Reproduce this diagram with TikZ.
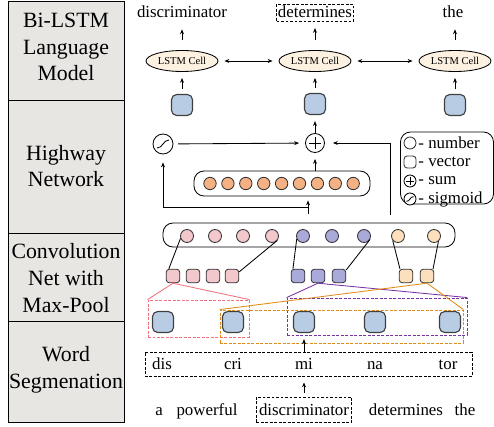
\documentclass[tikz,border=0pt]{standalone}
\usepackage{fontspec}
\setmainfont{Liberation Serif}
\usetikzlibrary{shapes.geometric,arrows.meta}
\definecolor{panelgray}{RGB}{231,230,227}
\definecolor{vecblue}{RGB}{184,204,228}
\definecolor{cellcream}{RGB}{253,242,226}
\definecolor{hworange}{RGB}{244,177,131}
\definecolor{pinkfill}{RGB}{242,200,204}
\definecolor{purpfill}{RGB}{170,170,218}
\definecolor{peachfill}{RGB}{252,224,190}
\definecolor{pinkline}{RGB}{243,112,122}
\definecolor{purpline}{RGB}{120,50,165}
\definecolor{orgline}{RGB}{222,140,22}
\begin{document}
\begin{tikzpicture}[x=0.25mm,y=-0.25mm,line width=0.6pt,
font=\fontsize{12}{14}\selectfont,
layer/.style={align=center,font=\fontsize{15.5}{19}\selectfont},
wd/.style={anchor=base},
lstm/.style={draw,ellipse,fill=cellcream,minimum width=18mm,minimum height=5.25mm,inner sep=0pt,font=\fontsize{7.5}{9}\selectfont},
vec/.style={draw=black!75,fill=vecblue,rounded corners=1.3mm,minimum size=5.25mm,line width=0.8pt},
psq/.style={draw=black!80,fill=#1,rounded corners=0.8mm,minimum size=3.4mm,inner sep=0pt},
num/.style={draw=black!80,fill=#1,circle,minimum size=3.25mm,inner sep=0pt},
rbox/.style={draw,rounded corners=2.5mm,fill=white},
win/.style={draw=#1,dash pattern=on 2pt off 1.2pt},
sum/.style={draw,circle,fill=white,minimum size=#1,inner sep=0pt,path picture={
 \draw([yshift=0.32*#1]path picture bounding box.center)--([yshift=-0.32*#1]path picture bounding box.center)
 ([xshift=-0.32*#1]path picture bounding box.center)--([xshift=0.32*#1]path picture bounding box.center);}},
sig/.style={draw,circle,fill=white,minimum size=#1,inner sep=0pt,path picture={
 \draw([shift={(-0.3*#1,-0.2*#1)}]path picture bounding box.center)..controls +(0.3*#1,0pt) and +(-0.3*#1,0pt)..([shift={(0.3*#1,0.2*#1)}]path picture bounding box.center);}},
arw/.style={-{Stealth[length=3.5pt,width=2.8pt]},shorten >=1.5mm},
dbl/.style={{Stealth[length=3.5pt,width=2.8pt]}-{Stealth[length=3.5pt,width=2.8pt]},shorten >=1.5mm,shorten <=1.5mm}
]
%\draw[help lines,step=10](0,0)grid(494,427);
\useasboundingbox(0,0)rectangle(494,427);

\draw[fill=panelgray](8,1)rectangle(124,422);
\draw(8,100)--(124,100) (8,233)--(124,233) (8,321)--(124,321);
\node[layer]at(66,47)(lm){Bi-LSTM\\Language\\Model};
\node[layer]at(66,166)(hn){Highway\\Network};
\node[layer]at(66,278)(cn){Convolution\\Net with\\Max-Pool};
\node[layer]at(66,370)(ws){Word\\Segmenation};

\node[wd]at(182,18)(o1){discriminator};
\node[wd,draw,dash pattern=on 2pt off 1.2pt,inner sep=1pt,text height=8.8pt,text depth=1.5pt]at(315,18)(o2){determines};
\node[wd]at(453,18)(o3){the};
\node[lstm]at(182,61)(l1){LSTM Cell};
\node[lstm]at(315,61)(l2){LSTM Cell};
\node[lstm]at(455,61)(l3){LSTM Cell};
\node[vec]at(182,105)(v1){};
\node[vec]at(315,104)(v2){};
\node[vec]at(455,105)(v3){};
\draw[arw,shorten <=2.5mm](l1.north)--(l1.north|-o1.south);
\draw[arw,shorten <=2.5mm](l2.north)--(l2.north|-o2.south);
\draw[arw,shorten <=2.5mm](l3.north)--(l3.north|-o3.south);
\draw[arw,shorten <=1.2mm](v1)--(l1);
\draw[arw,shorten <=1.2mm](v2)--(l2);
\draw[arw,shorten <=1.2mm](v3)--(l3);
\draw[dbl](l1)--(l2);
\draw[dbl](l2)--(l3);

\node[sum=4.75mm]at(315,143)(s){};
\node[sig=5mm]at(163,144)(g){};
\node[rbox,minimum width=44mm,minimum height=6.25mm]at(282,183.5)(hb){};
\foreach \i in {1,...,9}\node[num=hworange,minimum size=3.1mm]at(192.1+17.9*\i,183.5)(h\i){};
\node[rbox,minimum width=73mm,minimum height=6mm]at(309,235)(cb){};
\coordinate(c0)at(308,214);
\coordinate(br)at(308,207);
\coordinate(rt)at(390,215);
\draw[arw](s)--(v2);
\draw[arw](s|-hb.north)--(s);
\draw[arw,shorten <=1.2mm](g)--(s);
\draw[arw,shorten >=1mm](c0)--(c0|-hb.south);
\draw[arw,shorten >=2mm](br)-|(g);
\draw[arw,shorten >=2mm](rt)|-(s);

\foreach \x[count=\i] in {187,215,243,272}\node[num=pinkfill]at(\x,236)(pc\i){};
\foreach \x[count=\i] in {303,332,364}\node[num=purpfill]at(\x,236)(qc\i){};
\foreach \x[count=\i] in {398,434}\node[num=peachfill]at(\x,236)(rc\i){};
\foreach \x[count=\i] in {173,193,213,232}\node[psq=pinkfill]at(\x,276)(ps\i){};
\foreach \x[count=\i] in {298,318,339}\node[psq=purpfill]at(\x,276)(qs\i){};
\foreach \x[count=\i] in {406,427}\node[psq=peachfill]at(\x,276)(rs\i){};
\draw(ps1.120)--(pc1.200) (ps4.30)--(pc4.-40);
\draw(qs1.125)--(qc1.205) (qs3.40)--(qc3.-30);
\draw(rs1.130)--(rc1.220) (rs2.50)--(rc2.-50);

\foreach \x[count=\i] in {163,233,304,375,450}\node[vec]at(\x,322)(b\i){};
\node[win=pinkline,minimum width=25.25mm,minimum height=9.25mm]at(198.5,318.5)(pb){};
\node[win=purpline,minimum width=45mm,minimum height=9.25mm]at(377,316.5)(qb){};
\node[win=orgline,minimum width=60.75mm,minimum height=8.25mm]at(341.5,326.5)(ob){};
\draw[pinkline](ps1.south)--(pb.north west) (ps1.south)--(pb.north east);
\draw[purpline](qs2.south)--(qb.north west) (qs2.south)--(qb.north east);
\draw[orgline](rs2.south)--(ob.north west) (rs2.south)--(ob.north east);

\node[draw,dash pattern=on 2pt off 1.2pt,minimum width=81.75mm,minimum height=6mm]at(308.5,364)(sb){};
\node[wd]at(162,369)(w1){dis};
\node[wd]at(233,369)(w2){cri};
\node[wd]at(304,369)(w3){mi};
\node[wd]at(375,369)(w4){na};
\node[wd]at(448,369)(w5){tor};
\draw[arw](w3|-sb.north)--(b3);

\node[wd]at(159,415)(a1){a};
\node[wd]at(207,415)(a2){powerful};
\node[wd,draw,dash pattern=on 2pt off 1.2pt,inner sep=2pt,text height=10.8pt,text depth=3pt]at(304,415)(bd){discriminator};
\node[wd]at(406,415)(a4){determines};
\node[wd]at(465,415)(a5){the};
\draw[arw,shorten <=1mm](bd.north)--(bd.north|-sb.south);

\node[rbox,minimum width=23.25mm,minimum height=18mm]at(447,168)(lg){};
\node[num=white,minimum size=3mm]at(410,143)(k1){};
\node[psq=white,minimum size=3mm]at(410,162)(k2){};
\node[sum=3mm]at(410,181)(k3){};
\node[sig=3mm]at(410,199)(k4){};
\node[anchor=west,inner sep=0pt]at(418,143)(t1){- number};
\node[anchor=west,inner sep=0pt]at(418,162)(t2){- vector};
\node[anchor=west,inner sep=0pt]at(418,181)(t3){- sum};
\node[anchor=west,inner sep=0pt]at(418,199)(t4){- sigmoid};
\end{tikzpicture}
\end{document}
